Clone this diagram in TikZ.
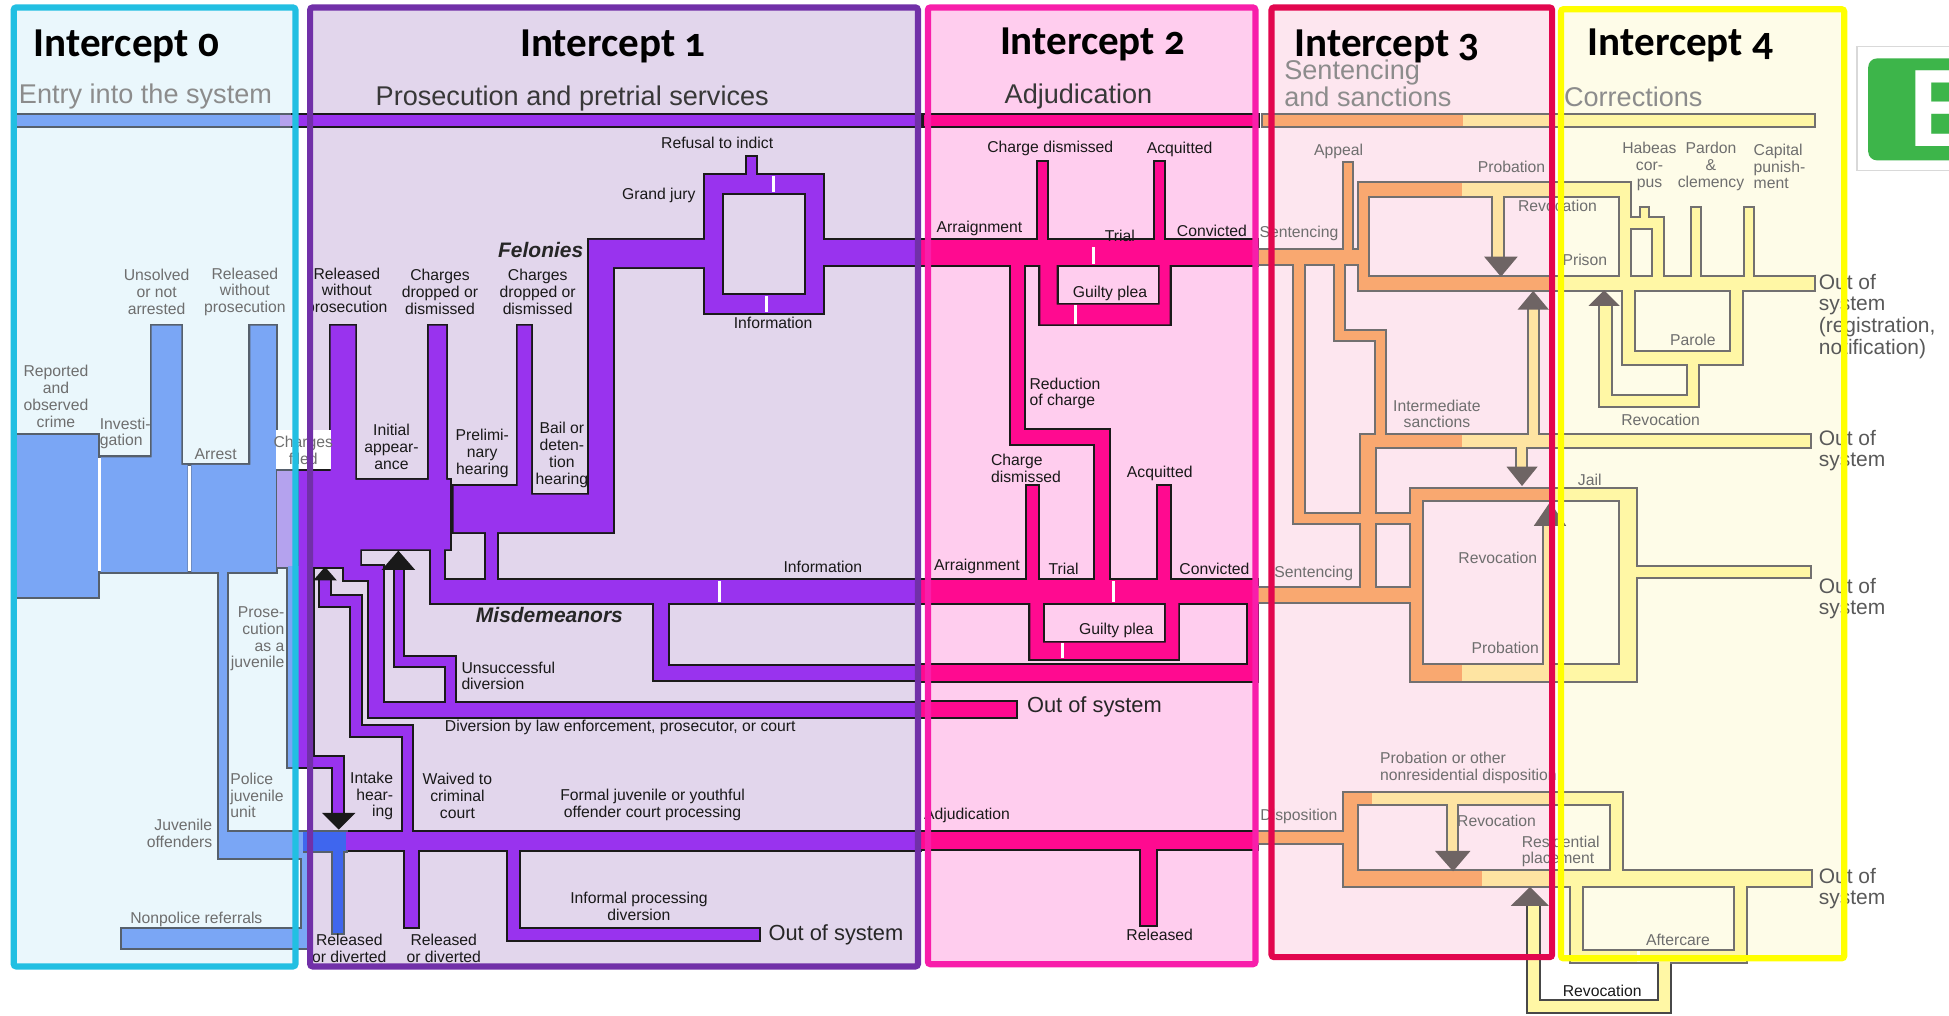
\documentclass[tikz,border=0pt]{standalone}
\usepackage{fontspec}
\setmainfont{Liberation Sans}
\newfontfamily\titlefont{Carlito}[Numbers=OldStyle]

\definecolor{edgeK}{HTML}{1A1A1A}
\definecolor{edgeB}{HTML}{56606C}
\definecolor{edgeO}{HTML}{727070}
\definecolor{cBlue}{HTML}{7AA6F5}
\definecolor{cBlueDk}{HTML}{3F66EE}
\definecolor{cLav}{HTML}{B4A2EE}
\definecolor{cPur}{HTML}{9933EE}
\definecolor{cMag}{HTML}{FF0A90}
\definecolor{cOr}{HTML}{F9A870}
\definecolor{cPale}{HTML}{FEE4A2}
\definecolor{cYel}{HTML}{FFF7A5}
\definecolor{tipGray}{HTML}{6E6464}
\definecolor{lblGray}{HTML}{6E6E6E}
\definecolor{bxLineA}{HTML}{22BFE2}
\definecolor{bxFillA}{HTML}{EAF7FC}
\definecolor{bxLineB}{HTML}{7130A8}
\definecolor{bxFillB}{HTML}{E2D6EC}
\definecolor{bxLineC}{HTML}{F81EAA}
\definecolor{bxFillC}{HTML}{FFCDEE}
\definecolor{bxLineD}{HTML}{E2064E}
\definecolor{bxFillD}{HTML}{FDE6EF}
\definecolor{bxLineE}{HTML}{FFFF00}
\definecolor{bxFillE}{HTML}{FEFCE8}
\definecolor{eGreen}{HTML}{3DB54A}

\pgfdeclarelayer{boxfill}
\pgfdeclarelayer{edges}
\pgfdeclarelayer{frame}
\pgfsetlayers{boxfill,edges,main,frame}

\newlength\upx
\setlength\upx{0.025cm}

% pipe: [edge colour]{width}{fill colour}{path}
\newcommand\pipe[4][edgeK]{%
  \begin{pgfonlayer}{edges}
    \draw[draw=#1, line width={(#2+3.2)*\upx}, line cap=rect, line join=miter] #4;
  \end{pgfonlayer}
  \draw[draw=#3, line width={#2*\upx}, line cap=rect, line join=miter] #4;}
% block: [edge colour]{fill colour}{closed path}
\newcommand\blk[3][edgeK]{%
  \begin{pgfonlayer}{edges}
    \filldraw[draw=#1, fill=#1, line width=3.2*\upx, line join=miter] #3;
  \end{pgfonlayer}
  \fill[#2] #3;}

\begin{document}
\begin{tikzpicture}[x=0.025cm, y=-0.025cm,
        flow_lbl/.style={font=\fontsize{9}{9.6}\selectfont, inner sep=0pt, align=center, text=black!90},
        gray_lbl/.style={flow_lbl, text=lblGray},
        stage_lbl/.style={font=\fontsize{12}{14}\selectfont\bfseries\itshape, inner sep=0pt, text=black!85},
        out_lbl/.style={font=\fontsize{12}{12.4}\selectfont, inner sep=0pt, align=left, anchor=west, text=black!65},
        big_lbl/.style={font=\fontsize{12.5}{14}\selectfont, inner sep=0pt, anchor=west, text=black!85},
        title_lbl/.style={font=\titlefont\bfseries\fontsize{23.5}{26}\selectfont, inner sep=0pt, anchor=base},
        sub_lbl/.style={font=\fontsize{15.5}{17}\selectfont, inner sep=0pt, anchor=base west, text=black!45},
        frame_box/.style={line width=5*\upx, rounded corners=1.5pt},
        tip_k/.style={fill=black!90},
        tip_g/.style={fill=tipGray},
        gap/.style={draw=white, line width=2.4*\upx}]

    \useasboundingbox (0,0) rectangle (1568,817);

    % Intercept areas
    \begin{pgfonlayer}{boxfill}
        \fill[white] (0,0) rectangle (1568,817);
        \fill[bxFillA] (11,6) rectangle (237.7,777.5);
        \fill[bxFillB] (249.5,6) rectangle (738.5,777.5);
        \fill[bxFillC] (746.5,6) rectangle (1010,775.7);
        \fill[bxFillD] (1023,6) rectangle (1248.7,770);
        \fill[bxFillE] (1255.8,7.4) rectangle (1483.7,771);
    \end{pgfonlayer}
    \begin{pgfonlayer}{frame}
        \draw[frame_box, bxLineA] (11,6) rectangle (237.7,777.5);
        \draw[frame_box, bxLineB] (249.5,6) rectangle (738.5,777.5);
        \draw[frame_box, bxLineC] (746.5,6) rectangle (1010,775.7);
        \draw[frame_box, bxLineD] (1023,6) rectangle (1248.7,770);
        \draw[frame_box, bxLineE] (1255.8,7.4) rectangle (1483.7,771);
    \end{pgfonlayer}

    % Titles
    \node[title_lbl, anchor=base west] (title_0) at (27,45.5) {Intercept 0};
    \node[title_lbl] (title_1) at (493,45.5) {Intercept 1};
    \node[title_lbl] (title_2) at (879,44.2) {Intercept 2};
    \node[title_lbl] (title_3) at (1116,45.5) {Intercept 3};
    \node[title_lbl] (title_4) at (1352,44.5) {Intercept 4};
    \node[sub_lbl] (sub_0) at (15,83) {Entry into the system};
    \node[sub_lbl, text=black!78] (sub_1) at (302,84.5) {Prosecution and pretrial services};
    \node[sub_lbl, text=black!78] (sub_2) at (808,83.5) {Adjudication};
    \node[sub_lbl, align=left, anchor=west] (sub_3) at (1033,67) {Sentencing\\[-2pt]and sanctions};
    \node[sub_lbl] (sub_4) at (1258,85.5) {Corrections};

    % Stage bar
    \blk[edgeB]{cBlue}{(14,92.5) rectangle (225,101.4)};
    \blk[edgeB]{cLav}{(225,92.5) rectangle (236,101.4)};
    \blk{cPur}{(236,92.5) rectangle (740,101.4)};
    \blk{cMag}{(743,92.5) rectangle (1012,101.4)};
    \blk[edgeO]{cOr}{(1016,92.5) rectangle (1177,101.4)};
    \blk[edgeO]{cPale}{(1177,92.5) rectangle (1250,101.4)};
    \blk[edgeO]{cYel}{(1250,92.5) rectangle (1459,101.4)};

    % Intercept 0 flow
    \blk[edgeB]{cBlue}{(13,350) rectangle (79,480)};
    \blk[edgeB]{cBlue}{(81,368) -- (122,368) -- (122,262) -- (146,262) -- (146,374) -- (151,374) -- (151,460) -- (81,460) -- cycle};
    \blk[edgeB]{cBlue}{(154,374) -- (201.5,374) -- (201.5,262) -- (222,262) -- (222,460) -- (154,460) -- cycle};
    \blk[edgeB]{cLav}{(223,379) rectangle (240,456)};
    \pipe[edgeB]{7}{cBlue}{(179.5,458) -- (179.5,672)};
    \blk[edgeB]{cBlue}{(176,669) rectangle (244,690)};
    \blk[edgeB]{cBlue}{(98,747) rectangle (249,763)};
    \blk[edgeB]{cBlue}{(243,686) rectangle (249,763)};
    \blk[edgeB]{cBlue}{(232,455) rectangle (240,617)};

    % Intercept 1 flow
    \blk{cPur}{(240,379) -- (266,379) -- (266,262) -- (286,262) -- (286,386) -- (345,386) -- (345,262) -- (359,262) -- (359,386) -- (362,386) -- (362,442) -- (290,442) -- (290,456) -- (240,456) -- cycle};
    \blk{cPur}{(365,391) -- (416.5,391) -- (416.5,262) -- (427.3,262) -- (427.3,398) -- (474,398) -- (474,193) -- (568,193) -- (568,215) -- (493,215) -- (493,428) -- (365,428) -- cycle};
    \blk{cPur}{(240,455) rectangle (252,617)};
    \pipe{8}{cPur}{(244,612.7) -- (272,612.7) -- (272,652)};
    \pipe{10}{cPur}{(352,440) -- (352,472)};
    \pipe{9}{cPur}{(395.5,426) -- (395.5,472)};
    \blk{cPur}{(347,467) rectangle (740,485)};
    \pipe{11}{cPur}{(532,483) -- (532,541.5) -- (740,541.5)};
    \pipe{11}{cPur}{(282,452) -- (282,461) -- (302.5,461) -- (302.5,571) -- (740,571)};
    \pipe{7.5}{cPur}{(328,671) -- (328,588) -- (286.5,588) -- (286.5,483.5) -- (261.5,483.5) -- (261.5,469)};
    \pipe{7}{cPur}{(362.5,569) -- (362.5,532) -- (321,532) -- (321,460)};
    \pipe{14}{cPur}{(574,148) rectangle (655.5,244.5)};
    \blk{cPur}{(655,193) rectangle (740,213)};
    \blk{cPur}{(601,126) rectangle (608,142)};
    \blk{cPur}{(278,669) rectangle (740,684)};
    \blk[edgeB]{cBlueDk}{(244,669) rectangle (278,685)};
    \blk[edgeB]{cBlueDk}{(268,684) rectangle (276,751)};
    \blk{cPur}{(326,684) rectangle (336,745.5)};
    \pipe{9}{cPur}{(413,682) -- (413,752) -- (606,752)};
    \fill[tip_k] (252,467) -- (271,467) -- (261.5,456) -- cycle;
    \fill[tip_k] (307,458.5) -- (334,458.5) -- (320.5,443) -- cycle;
    \fill[tip_k] (259,654) -- (286,654) -- (272.5,667.5) -- cycle;

    % Intercept 2 flow
    \blk{cMag}{(740,193) rectangle (1011,213)};
    \blk{cMag}{(835,130) rectangle (842,194)};
    \blk{cMag}{(929.5,130) rectangle (936.5,194)};
    \blk{cMag}{(837,212) -- (850,212) -- (850,245) -- (933,245) -- (933,212) -- (941,212) -- (941,261) -- (837,261) -- cycle};
    \pipe{11}{cMag}{(818.6,211) -- (818.6,351.5) -- (886.5,351.5) -- (886.5,468)};
    \blk{cMag}{(740,467) rectangle (1011,485)};
    \blk{cMag}{(826,391) rectangle (835,468)};
    \blk{cMag}{(932,391) rectangle (941,468)};
    \blk{cMag}{(829,484) -- (839,484) -- (839,517) -- (938,517) -- (938,484) -- (948,484) -- (948,530) -- (829,530) -- cycle};
    \blk{cMag}{(740,535) rectangle (1011,548)};
    \blk{cMag}{(1004,484) rectangle (1011,536)};
    \blk{cMag}{(740,565) rectangle (817,577)};
    \blk{cMag}{(740,669) rectangle (1011,683)};
    \blk{cMag}{(918,682) rectangle (930,744)};

    % Intercept 3 and 4 flow
    \blk[edgeO]{cOr}{(1013,201) rectangle (1097,212)};
    \blk[edgeO]{cOr}{(1081,131) rectangle (1088,202)};
    \blk[edgeO]{cOr}{(1093.5,147.5) rectangle (1100.7,230)};
    \blk[edgeO]{cOr}{(1093.5,147.5) rectangle (1176,157.5)};
    \blk[edgeO]{cPale}{(1176,147.5) rectangle (1249.5,157.5)};
    \blk[edgeO]{cYel}{(1249.5,147.5) rectangle (1311,157.5)};
    \blk[edgeO]{cYel}{(1303,147.5) rectangle (1311,224)};
    \blk[edgeO]{cYel}{(1320.5,167) rectangle (1326,182)};
    \blk[edgeO]{cYel}{(1310,175) rectangle (1338,183.6)};
    \blk[edgeO]{cYel}{(1330,175) rectangle (1338,224)};
    \blk[edgeO]{cYel}{(1361,167) rectangle (1368,224)};
    \blk[edgeO]{cYel}{(1404,167) rectangle (1410.5,224)};
    \blk[edgeO]{cOr}{(1093.5,222.6) rectangle (1249.5,233.3)};
    \blk[edgeO]{cYel}{(1249.5,222.6) rectangle (1459,233.3)};
    \pipe[edgeO]{9}{cYel}{(1310,232) -- (1310,288) -- (1397,288) -- (1397,232)};
    \pipe[edgeO]{8.5}{cYel}{(1362,292) -- (1362,322.5) -- (1291.5,322.5) -- (1291.5,248)};
    \pipe[edgeO]{8}{cPale}{(1205.5,156) -- (1205.5,205)};
    \pipe[edgeO]{7}{cPale}{(1233.5,352) -- (1233.5,250)};
    \pipe[edgeO]{7.5}{cOr}{(1077.5,210) -- (1077.5,270) -- (1110.5,270) -- (1110.5,352)};
    \pipe[edgeO]{7.5}{cOr}{(1045,210) -- (1045,417) -- (1137,417)};
    \blk[edgeO]{cOr}{(1095,350) rectangle (1176,359.4)};
    \blk[edgeO]{cPale}{(1176,350) rectangle (1249.5,359.4)};
    \blk[edgeO]{cYel}{(1249.5,350) rectangle (1456,359.4)};
    \blk[edgeO]{cOr}{(1095,350) rectangle (1106,474)};
    \pipe[edgeO]{7}{cPale}{(1224,358) -- (1224,374)};
    \blk[edgeO]{cOr}{(1011,473) rectangle (1137,484)};
    \blk[edgeO]{cOr}{(1135,393) rectangle (1144,548)};
    \blk[edgeO]{cOr}{(1135,393) rectangle (1249.5,402)};
    \blk[edgeO]{cYel}{(1249.5,393) rectangle (1316,402)};
    \blk[edgeO]{cYel}{(1303,393) rectangle (1316,548)};
    \blk[edgeO]{cOr}{(1135,535) rectangle (1176,548)};
    \blk[edgeO]{cPale}{(1176,535) rectangle (1249.5,548)};
    \blk[edgeO]{cYel}{(1249.5,535) rectangle (1316,548)};
    \blk[edgeO]{cYel}{(1316,456) rectangle (1456,464)};
    \pipe[edgeO]{7}{cPale}{(1246,536) -- (1246,424)};
    \blk[edgeO]{cOr}{(1011,669) rectangle (1083,678.5)};
    \blk[edgeO]{cOr}{(1081,638) rectangle (1092,713)};
    \blk[edgeO]{cOr}{(1081,638) rectangle (1104,646.6)};
    \blk[edgeO]{cPale}{(1104,638) rectangle (1249.5,646.6)};
    \blk[edgeO]{cYel}{(1249.5,638) rectangle (1305,646.6)};
    \blk[edgeO]{cYel}{(1296,638) rectangle (1305,703)};
    \blk[edgeO]{cOr}{(1081,701) rectangle (1192,713)};
    \blk[edgeO]{cPale}{(1192,701) rectangle (1249.5,713)};
    \blk[edgeO]{cYel}{(1249.5,701) rectangle (1457,713)};
    \pipe[edgeO]{7}{cPale}{(1168.5,645) -- (1168.5,683)};
    \pipe[edgeK!80]{9}{cYel}{(1233.5,730) -- (1233.5,809.5) -- (1339,809.5) -- (1339,777)};
    \pipe[edgeO]{9}{cYel}{(1268.5,712) -- (1268.5,769.5) -- (1400,769.5) -- (1400,712)};
    \fill[tip_g] (1194,206.5) -- (1221,206.5) -- (1207.5,222.6) -- cycle;
    \fill[tip_g] (1221,249) -- (1246,249) -- (1233.5,234) -- cycle;
    \fill[tip_g] (1278,246) -- (1303,246) -- (1290.5,233.5) -- cycle;
    \fill[tip_g] (1212,375.5) -- (1237,375.5) -- (1224.5,391) -- cycle;
    \fill[tip_g] (1234,423) -- (1260,423) -- (1247,404) -- cycle;
    \fill[tip_g] (1154.5,684.6) -- (1183,684.6) -- (1169,701) -- cycle;
    \fill[tip_g] (1215.5,728.7) -- (1246,728.7) -- (1231,713.5) -- cycle;

    % Separators
    \draw[gap] (80,368.5) -- (80,459.5);
    \draw[gap] (152.5,374.5) -- (152.5,459.5);
    \draw[gap] (622,141.5) -- (622,154.5);
    \draw[gap] (617,238) -- (617,251);
    \draw[gap] (579,467.5) -- (579,484.5);
    \draw[gap] (880,199) -- (880,212.5);
    \draw[gap] (865,245.5) -- (865,260.5);
    \draw[gap] (896,467.5) -- (896,484.5);
    \draw[gap] (855,517.5) -- (855,529.5);
    \draw[gap] (1318,765) -- (1318,774);

    % Labels, intercept 0
    \fill[white] (222,346) rectangle (266,377);
    \node[gray_lbl] (lbl_unsolved) at (126,234.7) {Unsolved\\or not\\arrested};
    \node[gray_lbl] (lbl_rel_0) at (197,234.7) {Released\\without\\prosecution};
    \node[gray_lbl] (lbl_crime) at (45,319) {Reported\\and\\observed\\crime};
    \node[gray_lbl, anchor=west, align=left] (lbl_invest) at (80,348.7) {Investi-\\gation};
    \node[gray_lbl] (lbl_arrest) at (173.5,365) {Arrest};
    \node[gray_lbl] (lbl_filed) at (244,362.5) {Charges\\filed};
    \node[gray_lbl, anchor=east, align=right] (lbl_pros_juv) at (229,514) {Prose-\\cution\\as a\\juvenile};
    \node[gray_lbl, anchor=west, align=left] (lbl_police) at (185,640) {Police\\juvenile\\unit};
    \node[gray_lbl, anchor=east, align=right] (lbl_juv_off) at (171,670.5) {Juvenile\\offenders};
    \node[gray_lbl] (lbl_nonpolice) at (158,740) {Nonpolice referrals};

    % Labels, intercept 1
    \node[flow_lbl] (lbl_rel_1) at (279,234.7) {Released\\without\\prosecution};
    \node[flow_lbl] (lbl_drop_1) at (354,234.7) {Charges\\dropped or\\dismissed};
    \node[flow_lbl] (lbl_drop_2) at (432.6,234.7) {Charges\\dropped or\\dismissed};
    \node[stage_lbl] (lbl_felonies) at (435,201) {Felonies};
    \node[flow_lbl] (lbl_initial) at (315,359.5) {Initial\\appear-\\ance};
    \node[flow_lbl] (lbl_prelim) at (388,365) {Prelimi-\\nary\\hearing};
    \node[flow_lbl] (lbl_bail) at (452,366) {Bail or\\deten-\\tion\\hearing};
    \node[flow_lbl] (lbl_refusal) at (577,115) {Refusal to indict};
    \node[flow_lbl] (lbl_grand) at (530,157) {Grand jury};
    \node[flow_lbl] (lbl_info_1) at (622,260) {Information};
    \node[stage_lbl] (lbl_misd) at (442,495) {Misdemeanors};
    \node[flow_lbl] (lbl_info_2) at (662,456) {Information};
    \node[flow_lbl, anchor=west, align=left] (lbl_unsucc) at (371,543.7) {Unsuccessful\\diversion};
    \node[flow_lbl] (lbl_divert) at (499,585) {Diversion by law enforcement, prosecutor, or court};
    \node[flow_lbl, anchor=east, align=right] (lbl_intake) at (316.5,640.5) {Intake\\hear-\\ing};
    \node[flow_lbl] (lbl_waived) at (368,640.5) {Waived to\\criminal\\court};
    \node[flow_lbl] (lbl_formal) at (525,647.5) {Formal juvenile or youthful\\offender court processing};
    \node[flow_lbl] (lbl_informal) at (514,729) {Informal processing\\diversion};
    \node[flow_lbl] (lbl_rel_juv_1) at (281,763) {Released\\or diverted};
    \node[flow_lbl] (lbl_rel_juv_2) at (357,763) {Released\\or diverted};
    \node[big_lbl] (lbl_out_1) at (618,752) {Out of system};

    % Labels, intercept 2
    \node[flow_lbl] (lbl_chg_dis_1) at (845,119.5) {Charge dismissed};
    \node[flow_lbl] (lbl_acq_1) at (949,120) {Acquitted};
    \node[flow_lbl] (lbl_arr_1) at (788,183.7) {Arraignment};
    \node[flow_lbl] (lbl_trial_1) at (901,190) {Trial};
    \node[flow_lbl] (lbl_conv_1) at (975,186) {Convicted};
    \node[flow_lbl] (lbl_guilty_1) at (893,236) {Guilty plea};
    \node[flow_lbl, anchor=west, align=left] (lbl_reduct) at (828,316.5) {Reduction\\of charge};
    \node[flow_lbl, anchor=west, align=left] (lbl_chg_dis_2) at (797,377) {Charge\\dismissed};
    \node[flow_lbl] (lbl_acq_2) at (933,381) {Acquitted};
    \node[flow_lbl] (lbl_arr_2) at (786,456) {Arraignment};
    \node[flow_lbl] (lbl_trial_2) at (855.6,458) {Trial};
    \node[flow_lbl] (lbl_conv_2) at (977,458) {Convicted};
    \node[flow_lbl] (lbl_guilty_2) at (898,507) {Guilty plea};
    \node[big_lbl] (lbl_out_2) at (826,569) {Out of system};
    \node[flow_lbl] (lbl_adjud) at (778,656) {Adjudication};
    \node[flow_lbl] (lbl_released) at (933,752) {Released};

    % Labels, intercepts 3 and 4
    \node[gray_lbl] (lbl_appeal) at (1077,122) {Appeal};
    \node[gray_lbl] (lbl_sent_1) at (1045,187.7) {Sentencing};
    \node[gray_lbl] (lbl_prob_1) at (1216,134) {Probation};
    \node[gray_lbl] (lbl_revoc_1) at (1253,166) {Revocation};
    \node[gray_lbl] (lbl_prison) at (1275,209) {Prison};
    \node[gray_lbl] (lbl_habeas) at (1327,134) {Habeas\\cor-\\pus};
    \node[gray_lbl] (lbl_pardon) at (1376.5,134) {Pardon\\\&\\clemency};
    \node[gray_lbl, anchor=west, align=left] (lbl_capital) at (1410.6,134) {Capital\\punish-\\ment};
    \node[gray_lbl] (lbl_parole) at (1362,273.5) {Parole};
    \node[gray_lbl] (lbl_revoc_2) at (1336,338) {Revocation};
    \node[gray_lbl] (lbl_interm) at (1156,333) {Intermediate\\sanctions};
    \node[gray_lbl] (lbl_jail) at (1279,386) {Jail};
    \node[gray_lbl] (lbl_revoc_3) at (1205,449) {Revocation};
    \node[gray_lbl] (lbl_prob_2) at (1211,521) {Probation};
    \node[gray_lbl] (lbl_sent_2) at (1057,461) {Sentencing};
    \node[gray_lbl] (lbl_dispo) at (1045,657) {Disposition};
    \node[gray_lbl, anchor=west, align=left] (lbl_prob_other) at (1110,618) {Probation or other\\nonresidential disposition};
    \node[gray_lbl] (lbl_revoc_4) at (1204,660) {Revocation};
    \node[gray_lbl, anchor=west, align=left] (lbl_resid) at (1224,685) {Residential\\placement};
    \node[gray_lbl] (lbl_after) at (1350,756) {Aftercare};
    \node[flow_lbl] (lbl_revoc_5) at (1289,797) {Revocation};
    \node[out_lbl] (lbl_out_a) at (1463,254.5) {Out of\\system\\(registration,\\notification)};
    \node[out_lbl] (lbl_out_b) at (1463,362.5) {Out of\\system};
    \node[out_lbl] (lbl_out_c) at (1463,481.5) {Out of\\system};
    \node[out_lbl] (lbl_out_d) at (1463,715) {Out of\\system};

    % Badge at the right edge
    \begin{scope}
        \clip (0,0) rectangle (1568,817);
        \draw[black!15, fill=white, line width=1.2*\upx] (1494,37.6) rectangle (1600,137);
        \fill[eGreen, rounded corners=5pt] (1503,47) rectangle (1620,129);
        \node[anchor=base west, inner sep=0pt, text=white, font=\bfseries\fontsize{63}{63}\selectfont] (badge_e) at (1535.5,118) {E};
    \end{scope}
\end{tikzpicture}
\end{document}
